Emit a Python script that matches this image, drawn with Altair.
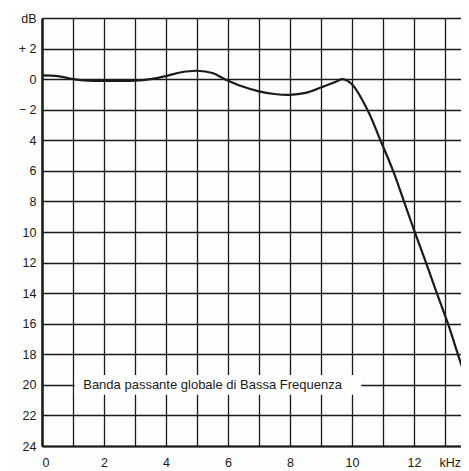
import altair as alt
import pandas as pd

# Frequency response (kHz, dB gain)
freq_khz = [0, 0.5, 1, 1.5, 2, 2.5, 3, 3.5, 4, 4.5, 5, 5.5, 5.9, 6.5, 7, 7.5, 8, 8.5,
            9, 9.5, 9.7, 10, 10.5, 10.92, 11.33, 11.68, 12, 12.39, 12.74, 13.1, 13.42, 13.74]
gain_db = [0.25, 0.2, 0.0, -0.1, -0.12, -0.12, -0.1, 0.0, 0.2, 0.45, 0.55, 0.4, 0.0,
           -0.5, -0.8, -0.97, -1.03, -0.9, -0.55, -0.15, 0.0, -0.33, -2.0, -4.0, -6.0,
           -8.0, -9.85, -12.0, -14.0, -16.0, -18.0, -20.0]

x_ticks = list(range(0, 14))
y_ticks = list(range(4, -25, -2))
caption = "Banda passante globale di Bassa Frequenza"
x_unit = "kHz"

X_DOMAIN = [0, 13.52]
Y_DOMAIN = [-24, 4]
INK = "#1a1a1a"

curve = pd.DataFrame({"f": freq_khz, "g": gain_db})

xs = alt.Scale(domain=X_DOMAIN, nice=False, zero=False)
ys = alt.Scale(domain=Y_DOMAIN, nice=False, zero=False)

x_axis = alt.Axis(
    values=x_ticks, tickCount=100, grid=True, gridColor=INK, gridWidth=1.3, gridOpacity=1,
    ticks=False, domain=True, domainColor=INK, domainWidth=2, labelOverlap=False,
    labelExpr="datum.value % 2 == 0 ? datum.value : ''",
    labelPadding=10, labelFontSize=12.5, labelFont="Liberation Sans", labelColor=INK,
    title=None,
)
y_axis = alt.Axis(
    values=y_ticks, tickCount=100, grid=True, gridColor=INK, gridWidth=1.3, gridOpacity=1,
    ticks=False, domain=True, domainColor=INK, domainWidth=2.5, labelOverlap=False,
    labelExpr="datum.value == 4 ? 'dB' : datum.value == 2 ? '+ 2' : datum.value == 0 ? '0' : datum.value == -2 ? '\u2212 2' : format(-datum.value, 'd')",
    labelPadding=6, labelFontSize=12.5, labelFont="Liberation Sans", labelColor=INK,
    title=None,
)

line = alt.Chart(curve).mark_line(color=INK, strokeWidth=2.2, interpolate="catmull-rom",
                                  clip=True).encode(
    x=alt.X("f:Q", scale=xs, axis=x_axis),
    y=alt.Y("g:Q", scale=ys, axis=y_axis),
)

cap_df = pd.DataFrame({"x": [1.05], "x2": [10.3], "y": [-19.35], "y2": [-20.65],
                       "tx": [1.33], "ty": [-20], "label": [caption]})
cap_bg = alt.Chart(cap_df).mark_rect(color="white").encode(
    x=alt.X("x:Q", scale=xs), x2="x2", y=alt.Y("y:Q", scale=ys), y2="y2"
)
cap_text = alt.Chart(cap_df).mark_text(
    align="left", baseline="middle", fontSize=13, font="Liberation Sans", color=INK
).encode(x=alt.X("tx:Q", scale=xs), y=alt.Y("ty:Q", scale=ys), text="label:N")

unit_df = pd.DataFrame({"x": [13.52], "y": [-24], "label": [x_unit]})
unit_text = alt.Chart(unit_df).mark_text(
    align="right", baseline="top", dy=11, fontSize=12.5, font="Liberation Sans", color=INK
).encode(x=alt.X("x:Q", scale=xs), y=alt.Y("y:Q", scale=ys), text="label:N")

chart = alt.layer(line, cap_bg, cap_text, unit_text).properties(
    width=419, height=428,
    autosize=alt.AutoSizeParams(type="none"),
    padding={"left": 34, "top": 10, "right": 0, "bottom": 24},
    background="#fdfdfb",
).configure_view(stroke=None)

chart.save("out.html", embed_options={"renderer": "svg", "actions": False})
